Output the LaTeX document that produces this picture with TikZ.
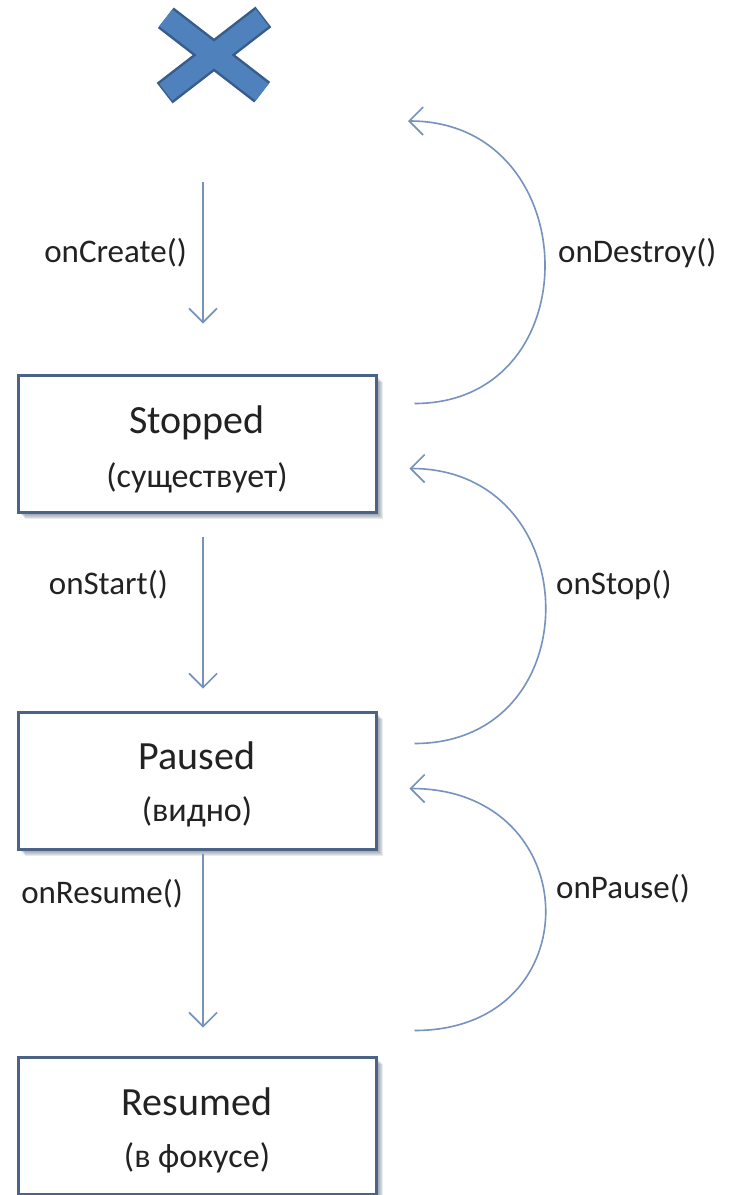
\documentclass[tikz,border=0pt]{standalone}
\usepackage{fontspec}
\setmainfont{Carlito}
\usetikzlibrary{arrows.meta,calc}
\definecolor{xfill}{HTML}{4F81BD}
\definecolor{xedge}{HTML}{385D8A}
\definecolor{flowc}{HTML}{7593BC}
\definecolor{boxedge}{HTML}{4A6386}
\definecolor{txt}{HTML}{222222}
\definecolor{shadowc}{HTML}{4A5870}
\begin{document}
\begin{tikzpicture}[x=1pt,y=-1pt,
  statebox/.style={draw=boxedge, line width=3pt, fill=white, minimum width=358pt, minimum height=137pt, inner sep=0pt},
  title/.style={anchor=base, font=\fontsize{40}{48}\selectfont, text=txt, inner sep=0pt},
  sub/.style={anchor=base, font=\fontsize{34}{40}\selectfont, text=txt, inner sep=0pt},
  lbl/.style={font=\fontsize{33}{40}\selectfont, text=txt, inner sep=0pt},
  flow/.style={draw=flowc, line width=1.6pt, -{Straight Barb[length=14pt,width=28pt]}},
  shadowbox/.style={fill=shadowc, opacity=0.12},
]
\useasboundingbox (0,0) rectangle (732,1195);
\fill[white] (0,0) rectangle (732,1195);

% cross
\node[minimum width=114pt, minimum height=94pt, inner sep=0pt] (cross) at (214,55) {};
\draw[xedge, line width=26pt, shorten <=-1.5pt, shorten >=-1.5pt]
  ($(cross.north west)+(9,10)$) -- ($(cross.south east)+(-9,-10)$)
  ($(cross.north east)+(-9,10)$) -- ($(cross.south west)+(9,-10)$);
\draw[xfill, line width=21pt]
  ($(cross.north west)+(9,10)$) -- ($(cross.south east)+(-9,-10)$)
  ($(cross.north east)+(-9,10)$) -- ($(cross.south west)+(9,-10)$);

% shadows
\foreach \cy in {443.5,780.5,1125.5}{
  \foreach \s in {2,3,4,5,6,7}{
    \fill[shadowbox] (18+\s,\cy-68.5+\s) rectangle (376+\s,\cy+68.5+\s);
  }
}

% boxes
\node[statebox] (stopped) at (197,443.5) {};
\node[statebox] (paused) at (197,780.5) {};
\node[statebox] (resumed) at (197,1125.5) {};

\node[title] (stoppedT) at (197,433) {Stopped};
\node[sub] (stoppedS) at (197,487) {(существует)};
\node[title] (pausedT) at (197,769) {Paused};
\node[sub] (pausedS) at (197,821) {(видно)};
\node[title] (resumedT) at (197,1115) {Resumed};
\node[sub] (resumedS) at (197,1167) {(в фокусе)};

% straight arrows
\draw[flow, shorten <=80pt, shorten >=50pt] ([xshift=-11pt]cross.south) -- ([xshift=6pt]stopped.north);
\draw[flow, shorten <=23pt, shorten >=22pt] ([xshift=6pt]stopped.south) -- ([xshift=6pt]paused.north);
\draw[flow, shorten <=3pt, shorten >=28pt] ([xshift=6pt]paused.south) -- ([xshift=6pt]resumed.north);

% curved arrows
\coordinate (destroyEnd) at (408,121);
\draw[flow] ([xshift=37pt,yshift=-30pt]stopped.north east) .. controls +(178,0) and +(178,0) .. (destroyEnd);
\draw[flow] ([xshift=37pt,yshift=-33pt]paused.north east) .. controls +(178,0) and +(178,0) .. ([xshift=32pt,yshift=45pt]stopped.south east);
\draw[flow] ([xshift=37pt,yshift=25pt]resumed.north east) .. controls +(178,0) and +(178,0) .. ([xshift=32pt,yshift=62pt]paused.south east);

% labels
\node[lbl, anchor=base east] (lcreate) at (187,262) {onCreate()};
\node[lbl, anchor=base east] (lstart) at (168,594) {onStart()};
\node[lbl, anchor=base east] (lresume) at (183,903) {onResume()};
\node[lbl, anchor=base west] (ldestroy) at (558,262) {onDestroy()};
\node[lbl, anchor=base west] (lstop) at (556,594) {onStop()};
\node[lbl, anchor=base west] (lpause) at (556,898) {onPause()};
\end{tikzpicture}
\end{document}
